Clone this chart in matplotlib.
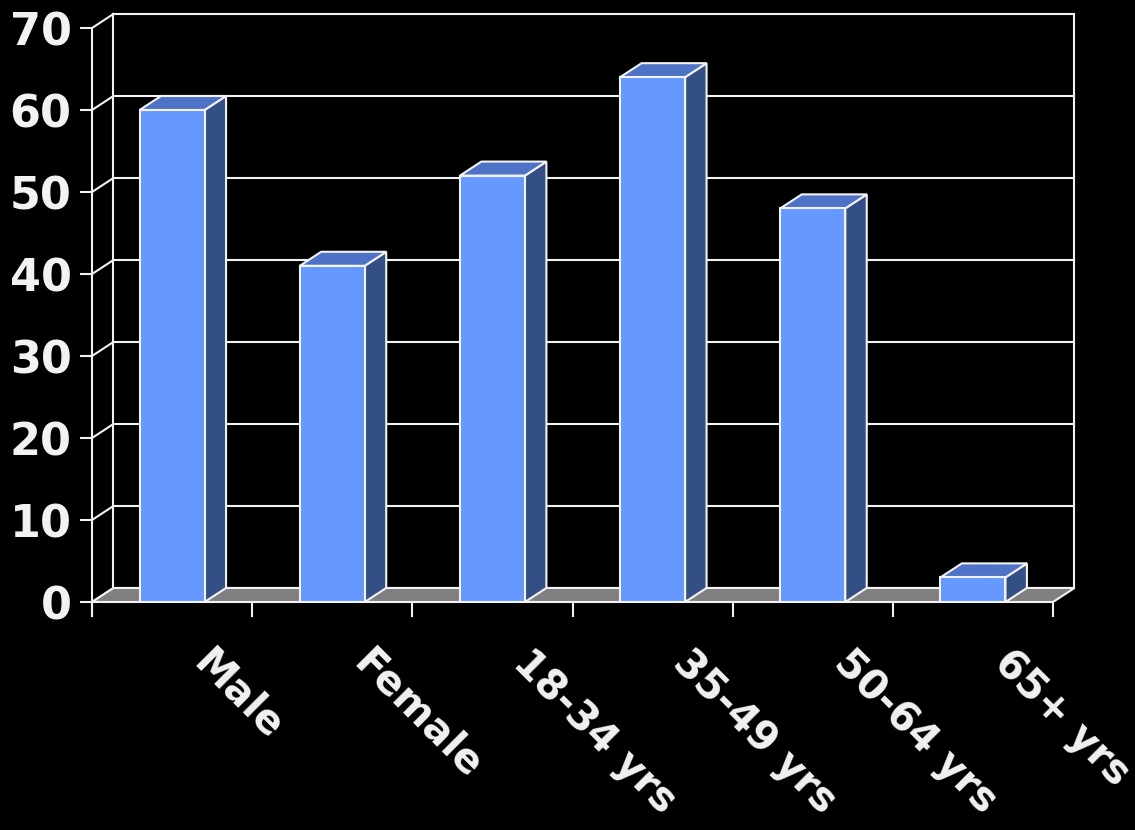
import matplotlib
matplotlib.use("Agg")
import matplotlib.pyplot as plt
from matplotlib.patches import Polygon

# data
categories = ["Male", "Female", "18-34 yrs", "35-49 yrs", "50-64 yrs", "65+ yrs"]
values = [60, 41, 52, 64, 48, 3]
y_ticks = [0, 10, 20, 30, 40, 50, 60, 70]

# look
FRONT = "#6699FF"
TOP = "#4D72C6"
SIDE = "#334F86"
FLOOR = "#808080"
EDGE = "#F2F2F2"
TXT = "#F2F2F2"

DX = 0.134   # depth offset in category units
DY = 1.71    # depth offset in value units
HALF = 0.203
LW = 1.5

fig = plt.figure(figsize=(11.35, 8.3), dpi=100, facecolor="black")
px_x = 160.17
px_y = 8.2
xmax, ymax = 6.3, 72.5
ax = fig.add_axes([92 / 1135, (830 - 602) / 830, xmax * px_x / 1135, ymax * px_y / 830])
ax.set_facecolor("black")
ax.set_xlim(0, xmax)
ax.set_ylim(0, ymax)
for s in ax.spines.values():
    s.set_visible(False)
ax.set_xticks([])
ax.set_yticks(y_ticks)
ax.set_yticklabels([str(t) for t in y_ticks], fontsize=32, fontweight="bold", color=TXT)
ax.tick_params(axis="y", length=8.6, width=LW, color=EDGE, pad=6)

n = len(categories)

# back wall grid + side diagonals
for t in y_ticks:
    ax.plot([DX, n + DX], [t + DY, t + DY], color=EDGE, lw=LW, zorder=1, clip_on=False)
    ax.plot([0, DX], [t, t + DY], color=EDGE, lw=LW, zorder=1, clip_on=False)
top = y_ticks[-1]
ax.plot([DX, DX], [DY, top + DY], color=EDGE, lw=LW, zorder=1, clip_on=False)
ax.plot([n + DX, n + DX], [DY, top + DY], color=EDGE, lw=LW, zorder=1, clip_on=False)

# floor
ax.add_patch(Polygon([(0, 0), (n, 0), (n + DX, DY), (DX, DY)], closed=True,
                     facecolor=FLOOR, edgecolor=EDGE, lw=LW, zorder=2))

# front axes
ax.plot([0, 0], [-1.7, top], color=EDGE, lw=LW, zorder=2, clip_on=False)
ax.plot([0, n], [0, 0], color=EDGE, lw=LW, zorder=2, clip_on=False)
for i in range(n + 1):
    ax.plot([i, i], [0, -1.7], color=EDGE, lw=LW, zorder=2, clip_on=False)

# bars
for i, v in enumerate(values):
    c = i + 0.5
    l, r = c - HALF, c + HALF
    side = [(r, 0), (r + DX, DY), (r + DX, v + DY), (r, v)]
    lid = [(l, v), (r, v), (r + DX, v + DY), (l + DX, v + DY)]
    front = [(l, 0), (r, 0), (r, v), (l, v)]
    for pts, col in ((side, SIDE), (lid, TOP), (front, FRONT)):
        ax.add_patch(Polygon(pts, closed=True, facecolor=col, edgecolor=EDGE,
                             lw=LW, joinstyle="miter", zorder=3 + i))

# category labels
for i, lab in enumerate(categories):
    ax.text(i + 0.5 + 0.12, -7.6, lab, rotation=-45, rotation_mode="anchor",
            ha="left", va="baseline", fontsize=29, fontweight="bold", color=TXT,
            clip_on=False)

fig.savefig("out.png", dpi=100, facecolor="black")
